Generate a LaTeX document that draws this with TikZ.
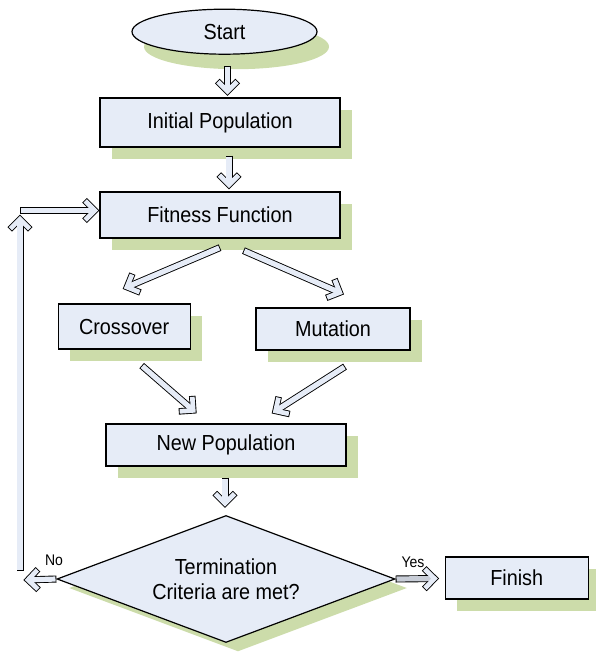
\documentclass[tikz,border=0pt]{standalone}
\usepackage{fontspec}
\setmainfont{Liberation Sans}
\usetikzlibrary{calc,shapes.geometric,shadows}
\definecolor{boxfill}{RGB}{230,236,247}
\definecolor{shgreen}{RGB}{204,220,170}
\definecolor{yesfill}{RGB}{200,205,215}
\newcommand\tx[1]{\scalebox{1}[1.1]{#1}}
\newcommand\blkarrow[3][boxfill]{%
  \coordinate (bkV) at ($(#3)!4.6pt!(#2)$);
  \coordinate (bkA) at ($(bkV)!14.5pt!45:(#2)$);
  \coordinate (bkB) at ($(bkV)!14.5pt!-45:(#2)$);
  \coordinate (bkAi) at ($(bkV)!13.6pt!45:(#2)$);
  \coordinate (bkBi) at ($(bkV)!13.6pt!-45:(#2)$);
  \coordinate (bkS) at ($(#2)!0.9pt!(bkV)$);
  \draw[black, line width=7pt, line cap=butt] (#2) -- (bkV);
  \draw[black, line width=6.5pt, line cap=butt, line join=miter] (bkA) -- (bkV) -- (bkB);
  \draw[#1, line width=5.2pt, line cap=butt] (bkS) -- (bkV);
  \draw[boxfill, line width=4.7pt, line cap=butt, line join=miter] (bkAi) -- (bkV) -- (bkBi);
}
\tikzset{
  shd/.style={drop shadow={shadow xshift=12pt, shadow yshift=-12pt, fill=shgreen, draw=none, opacity=1}},
  boxnode/.style={rectangle, draw=black, line width=1.2pt, fill=boxfill, inner sep=0pt, shd,
    font=\fontsize{19.8}{24}\selectfont},
  ellnode/.style={ellipse, draw=black, line width=1.2pt, fill=boxfill, inner sep=0pt,
    drop shadow={shadow xshift=12pt, shadow yshift=-15pt, fill=shgreen, draw=none, opacity=1},
    font=\fontsize{19.8}{24}\selectfont},
  dianode/.style={diamond, aspect=2.66, draw=black, line width=1.2pt, fill=boxfill, inner sep=0pt,
    drop shadow={shadow xshift=12pt, shadow yshift=-9pt, fill=shgreen, draw=none, opacity=1},
    align=center, font=\fontsize{19.8}{28}\selectfont},
  lbl/.style={inner sep=0pt, font=\fontsize{14}{16}\selectfont},
}
\begin{document}
\begin{tikzpicture}[x=1pt,y=-1pt]
\useasboundingbox (0,0) rectangle (596,653);
\node[ellnode, minimum width=185, minimum height=45] (start) at (224.5,31.7) {\tx{Start}};
\node[boxnode, minimum width=240, minimum height=49] (init) at (220,122.5) {\tx{Initial Population}};
\node[boxnode, minimum width=240, minimum height=46] (fit) at (220,215) {\tx{Fitness Function}};
\node[boxnode, minimum width=132, minimum height=45] (cross) at (124.2,326.5) {\tx{Crossover}};
\node[boxnode, minimum width=154, minimum height=42] (mut) at (333,329) {\tx{Mutation}};
\node[boxnode, minimum width=240, minimum height=42] (newp) at (226,445) {\tx{New Population}};
\node[dianode, minimum width=338, minimum height=127] (dia) at (226,579) {\tx{Termination}\\[-3pt]\tx{Criteria are met?}};
\node[boxnode, minimum width=143, minimum height=42] (finish) at (516.7,578) {\tx{Finish}};
\node[lbl] (no) at (54,560) {\tx{No}};
\node[lbl] (yes) at (413,562) {\tx{Yes}};
% connectors
\coordinate (a1s) at ($(start.south)+(3,11)$);
\coordinate (a1e) at ($(init.north)+(7.5,-1.5)$);
\blkarrow{a1s}{a1e}
\coordinate (a2s) at ($(init.south)+(9,8)$);
\coordinate (a2e) at ($(fit.north)+(9,-2)$);
\blkarrow{a2s}{a2e}
\coordinate (a3s) at ($(fit.south)+(0,9)$);
\coordinate (a3e) at ($(cross.north)+(-1.5,-14.5)$);
\blkarrow{a3s}{a3e}
\coordinate (a4s) at ($(fit.south)+(23.5,12)$);
\coordinate (a4e) at ($(mut.north)+(11,-13)$);
\blkarrow{a4s}{a4e}
\coordinate (a5s) at ($(cross.south)+(17.5,16)$);
\coordinate (a5e) at ($(newp.north)+(-29.3,-10)$);
\blkarrow{a5s}{a5e}
\coordinate (a6s) at ($(mut.south)+(12,16)$);
\coordinate (a6e) at ($(newp.north)+(45.7,-10)$);
\blkarrow{a6s}{a6e}
\coordinate (a7s) at ($(newp.south)+(-1,11)$);
\coordinate (a7e) at ($(dia.north)+(-1,-7)$);
\blkarrow{a7s}{a7e}
\coordinate (a8e) at ($(dia.west)+(-33,1)$);
\blkarrow{dia.west}{a8e}
\coordinate (a9e) at ($(finish.west)+(-5.5,0.5)$);
\blkarrow[yesfill]{dia.east}{a9e}
\coordinate (loopbot) at (20,571);
\coordinate (looptop) at (20,214.5);
\coordinate (loopcorner) at (20,210.5);
\coordinate (a10e) at ($(fit.west)+(0,-4.5)$);
\blkarrow{loopbot}{looptop}
\blkarrow{loopcorner}{a10e}
\end{tikzpicture}
\end{document}
